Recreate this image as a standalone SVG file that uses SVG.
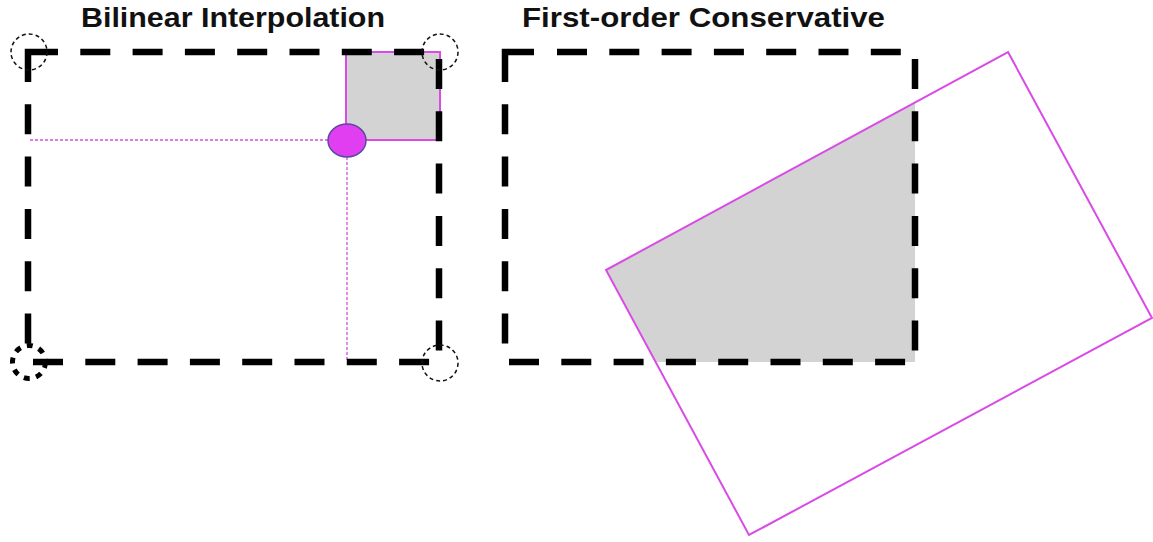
<svg xmlns="http://www.w3.org/2000/svg" width="1153" height="542" viewBox="0 0 1153 542">
  <style>
    .title { font-family: "Liberation Sans", Arial, sans-serif; font-weight: bold; font-size: 28px; fill: #111; }
    .cell { fill: none; stroke: #000; stroke-width: 6.5; stroke-dasharray: 30 22.3; }
    .corner { fill: none; stroke: #000; stroke-width: 6.5; stroke-linejoin: miter; }
    .ring { fill: none; stroke: #111; stroke-width: 1.5; stroke-dasharray: 4 3; }
    .guide { fill: none; stroke: #d64fe0; stroke-width: 1.3; stroke-dasharray: 3 2; }
    .area { fill: #d4d3d3; }
    .edge { fill: none; stroke: #d94be6; stroke-width: 2; }
  </style>

  <!-- titles -->
  <text class="title" x="81" y="27" textLength="304" lengthAdjust="spacingAndGlyphs">Bilinear Interpolation</text>
  <text class="title" x="522" y="27" textLength="363" lengthAdjust="spacingAndGlyphs">First-order Conservative</text>

  <!-- bilinear panel -->
  <g id="bilinear">
    <rect class="area" x="346" y="52" width="94" height="88"/>
    <rect class="edge" x="346" y="52" width="94" height="88" stroke-width="1.5"/>
    <path class="guide" d="M30,140 H328"/>
    <path class="guide" d="M347,157 V362"/>
    <path class="corner" d="M28,82 V52 H58"/>
    <path class="cell" d="M80.3,52 H440"/>
    <path class="cell" d="M28,104.3 V362"/>
    <path class="cell" d="M439,59 V362"/>
    <path class="cell" d="M33,362 H440"/>
    <circle class="ring" cx="29" cy="52" r="18"/>
    <circle class="ring" cx="440" cy="52" r="18"/>
    <circle class="ring" cx="440" cy="363" r="18"/>
    <circle cx="29" cy="362" r="16.5" fill="none" stroke="#000" stroke-width="5" stroke-dasharray="6 6.5"/>
    <ellipse id="sample" cx="347" cy="140.5" rx="19" ry="16.5" fill="#e03ef0" stroke="#5a4aa0" stroke-width="1.5"/>
  </g>

  <!-- conservative panel -->
  <g id="conservative">
    <polygon class="area" points="606,270 915,102.4 915,362 655.6,362"/>
    <polygon class="edge" points="1008,52 1152,318 749,535 606,270"/>
    <path class="corner" d="M505,82 V52 H534"/>
    <path class="cell" d="M557,52 H915"/>
    <path class="cell" d="M505,104.3 V362"/>
    <path class="cell" d="M915,59 V362"/>
    <path class="cell" d="M509,362 H915"/>
  </g>
</svg>
